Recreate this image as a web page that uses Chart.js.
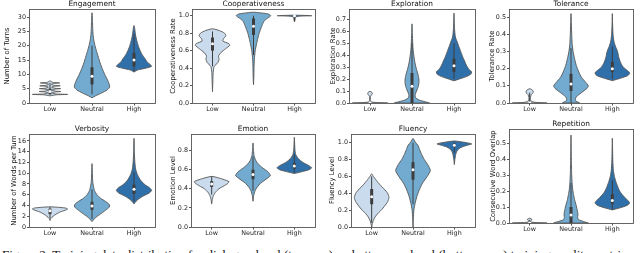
<!DOCTYPE html>
<html>
<head>
<meta charset="utf-8">
<script src="https://cdn.jsdelivr.net/npm/chart.js@4.4.0/dist/chart.umd.min.js"></script>
<style>
  html, body { margin: 0; padding: 0; background: #fff; width: 640px; height: 253px; overflow: hidden; position: relative; }
  canvas { position: absolute; }
  #caption { position: absolute; left: 2px; top: 248px; font: 13px "Liberation Serif", serif; line-height: 1; white-space: nowrap; color: #111; }
</style>
</head>
<body>
<div id="caption">Figure 2: Training data distribution for dialogue-level (top row) and utterance-level (bottom row) training quality metrics.</div>
<script>
const groups = ['Low', 'Neutral', 'High'];

// violin outlines: value levels (y) and relative half-width (w, 1 = widest)
const engagementLowY = [2.5, 2.85, 3.0, 3.15, 3.5, 3.85, 4.0, 4.15, 4.5, 4.85, 5.0, 5.15, 5.5, 5.85, 6.0, 6.15, 6.5, 6.85, 7.0, 7.15, 7.5, 7.8];
const engagementLowW = [0, 0.35, 1.0, 0.35, 0.12, 0.3, 0.62, 0.3, 0.1, 0.28, 0.6, 0.28, 0.1, 0.26, 0.58, 0.26, 0.08, 0.22, 0.55, 0.2, 0.06, 0];
const engagementNeutralY = [1.8, 2.5, 3.5, 4.5, 5.5, 6.5, 8, 10, 12, 14, 16, 18, 20, 22, 24, 26, 28, 31.5];
const engagementNeutralW = [0, 0.2, 0.55, 0.85, 1.0, 0.98, 0.88, 0.72, 0.58, 0.46, 0.36, 0.26, 0.17, 0.1, 0.06, 0.04, 0.03, 0];
const engagementHighY = [10.8, 11.5, 12.2, 12.8, 13.5, 14.5, 15.5, 17, 18.5, 20, 21.5, 23, 24.5, 26, 27];
const engagementHighW = [0, 0.2, 0.7, 1.0, 0.9, 0.72, 0.62, 0.45, 0.33, 0.24, 0.17, 0.11, 0.07, 0.04, 0];

const coopLowY = [0.13, 0.25, 0.35, 0.42, 0.46, 0.5, 0.54, 0.58, 0.62, 0.66, 0.68, 0.71, 0.74, 0.77, 0.8, 0.83, 0.85];
const coopLowW = [0, 0.02, 0.04, 0.1, 0.3, 0.38, 0.35, 0.5, 0.75, 1.0, 0.95, 0.6, 0.65, 0.78, 0.7, 0.4, 0];
const coopNeutralY = [0.21, 0.3, 0.4, 0.5, 0.6, 0.68, 0.74, 0.8, 0.85, 0.9, 0.94, 0.97, 1.0, 1.02, 1.04];
const coopNeutralW = [0, 0.02, 0.03, 0.05, 0.1, 0.18, 0.25, 0.33, 0.42, 0.52, 0.62, 0.8, 1.0, 0.85, 0];
const coopHighY = [0.93, 0.95, 0.97, 0.985, 0.995, 1.0, 1.006];
const coopHighW = [0, 0.03, 0.04, 0.06, 0.3, 1.0, 0];

const explorationLowY = [0, 0.004, 0.01, 0.03, 0.055, 0.07, 0.082, 0.092, 0.097];
const explorationLowW = [1.0, 0.35, 0.05, 0.02, 0.03, 0.1, 0.14, 0.08, 0];
const explorationNeutralY = [0, 0.01, 0.025, 0.045, 0.07, 0.1, 0.14, 0.18, 0.22, 0.26, 0.3, 0.35, 0.4, 0.45, 0.5, 0.58, 0.66];
const explorationNeutralW = [1.0, 0.75, 0.4, 0.2, 0.18, 0.26, 0.36, 0.4, 0.37, 0.3, 0.22, 0.15, 0.1, 0.06, 0.04, 0.02, 0];
const explorationHighY = [0.185, 0.2, 0.22, 0.24, 0.26, 0.28, 0.31, 0.35, 0.39, 0.43, 0.47, 0.51, 0.55, 0.6, 0.66, 0.75];
const explorationHighW = [0, 0.3, 0.7, 0.95, 1.0, 0.85, 0.72, 0.6, 0.48, 0.38, 0.28, 0.18, 0.08, 0.04, 0.02, 0];

const toleranceLowY = [0, 0.004, 0.012, 0.03, 0.05, 0.06, 0.07, 0.078, 0.083];
const toleranceLowW = [1.0, 0.3, 0.08, 0.04, 0.1, 0.2, 0.2, 0.12, 0];
const toleranceNeutralY = [0, 0.015, 0.035, 0.06, 0.085, 0.1, 0.12, 0.15, 0.18, 0.22, 0.26, 0.3, 0.34, 0.4, 0.46, 0.52];
const toleranceNeutralW = [0.5, 0.25, 0.3, 0.6, 0.92, 1.0, 0.85, 0.6, 0.45, 0.3, 0.2, 0.12, 0.07, 0.04, 0.02, 0];
const toleranceHighY = [0.13, 0.145, 0.16, 0.175, 0.19, 0.21, 0.23, 0.25, 0.27, 0.3, 0.33, 0.36, 0.4, 0.46, 0.52];
const toleranceHighW = [0, 0.5, 0.9, 1.0, 0.85, 0.62, 0.5, 0.42, 0.36, 0.3, 0.18, 0.09, 0.04, 0.015, 0];

const verbosityLowY = [1.2, 1.6, 2.0, 2.4, 2.8, 3.1, 3.35, 3.55, 3.75];
const verbosityLowW = [0, 0.05, 0.18, 0.35, 0.58, 0.85, 1.0, 0.85, 0];
const verbosityNeutralY = [1.0, 1.5, 2.0, 2.5, 3.0, 3.5, 3.9, 4.3, 4.8, 5.3, 6.0, 6.8, 7.6, 8.5, 10, 11.8];
const verbosityNeutralW = [0, 0.12, 0.3, 0.52, 0.72, 0.92, 1.0, 0.95, 0.75, 0.5, 0.28, 0.14, 0.08, 0.04, 0.02, 0];
const verbosityHighY = [4.3, 4.8, 5.3, 5.8, 6.3, 6.8, 7.3, 7.8, 8.5, 9.2, 10, 11, 12.5, 14, 16.5];
const verbosityHighW = [0, 0.12, 0.3, 0.55, 0.85, 1.0, 0.88, 0.65, 0.42, 0.28, 0.16, 0.08, 0.04, 0.02, 0];

const emotionLowY = [0.24, 0.28, 0.32, 0.36, 0.4, 0.43, 0.455, 0.475, 0.5, 0.53];
const emotionLowW = [0, 0.03, 0.08, 0.2, 0.42, 0.7, 0.92, 1.0, 0.65, 0];
const emotionNeutralY = [0.27, 0.33, 0.38, 0.42, 0.46, 0.5, 0.54, 0.58, 0.62, 0.66, 0.7, 0.75, 0.8, 0.88];
const emotionNeutralW = [0, 0.04, 0.12, 0.25, 0.45, 0.75, 1.0, 0.85, 0.55, 0.3, 0.15, 0.06, 0.03, 0];
const emotionHighY = [0.56, 0.58, 0.6, 0.62, 0.645, 0.67, 0.7, 0.73, 0.76, 0.8, 0.86, 0.94];
const emotionHighW = [0, 0.45, 0.85, 1.0, 0.82, 0.55, 0.32, 0.17, 0.08, 0.04, 0.02, 0];

const fluencyLowY = [0, 0.04, 0.08, 0.12, 0.16, 0.2, 0.25, 0.3, 0.35, 0.4, 0.45, 0.5, 0.55, 0.6, 0.63];
const fluencyLowW = [0, 0.04, 0.1, 0.2, 0.35, 0.55, 0.75, 0.92, 1.0, 0.92, 0.72, 0.48, 0.28, 0.1, 0];
const fluencyNeutralY = [0, 0.1, 0.2, 0.28, 0.36, 0.44, 0.52, 0.6, 0.67, 0.74, 0.8, 0.86, 0.92, 0.97, 1.01, 1.05];
const fluencyNeutralW = [0, 0.02, 0.05, 0.12, 0.22, 0.36, 0.55, 0.82, 1.0, 0.85, 0.65, 0.5, 0.38, 0.28, 0.12, 0];
const fluencyHighY = [0.74, 0.8, 0.86, 0.9, 0.93, 0.95, 0.97, 0.985, 1.0, 1.02];
const fluencyHighW = [0, 0.03, 0.08, 0.15, 0.28, 0.45, 0.75, 1.0, 0.7, 0];

const repetitionLowY = [0, 0.003, 0.008, 0.015, 0.02, 0.025, 0.03];
const repetitionLowW = [1.0, 0.3, 0.05, 0.06, 0.12, 0.12, 0];
const repetitionNeutralY = [0, 0.01, 0.02, 0.035, 0.05, 0.07, 0.09, 0.11, 0.14, 0.17, 0.2, 0.24, 0.3, 0.4, 0.55];
const repetitionNeutralW = [1.0, 0.7, 0.45, 0.38, 0.4, 0.38, 0.34, 0.3, 0.22, 0.16, 0.11, 0.07, 0.04, 0.02, 0];
const repetitionHighY = [0.082, 0.095, 0.11, 0.125, 0.14, 0.16, 0.18, 0.2, 0.23, 0.26, 0.29, 0.33, 0.38, 0.45, 0.53];
const repetitionHighW = [0, 0.45, 0.85, 1.0, 0.9, 0.72, 0.55, 0.42, 0.3, 0.2, 0.12, 0.06, 0.03, 0.015, 0];

// inner boxes: [whisker low, q1, median, q3, whisker high] for Low / Neutral / High
const engagementBox = [[3, 3, 4, 5, 7], [3, 6.5, 9.3, 12.5, 20], [11, 12.8, 15, 17.5, 24]];
const coopBox = [[0.42, 0.6, 0.68, 0.75, 0.82], [0.55, 0.78, 0.88, 0.97, 1.0], [0.94, 1.0, 1.0, 1.0, 1.0]];
const explorationBox = [[0, 0, 0, 0, 0.01], [0, 0, 0.14, 0.25, 0.5], [0.2, 0.26, 0.31, 0.37, 0.5]];
const toleranceBox = [[0, 0, 0, 0.005, 0.06], [0, 0.07, 0.11, 0.17, 0.32], [0.14, 0.18, 0.2, 0.24, 0.33]];
const verbosityBox = [[1.6, 2.4, 3.0, 3.4, 3.7], [1.5, 3.2, 3.9, 4.7, 7.0], [4.7, 6.2, 7.0, 7.9, 10.2]];
const emotionBox = [[0.34, 0.42, 0.45, 0.48, 0.53], [0.38, 0.5, 0.55, 0.6, 0.74], [0.57, 0.61, 0.64, 0.67, 0.76]];
const fluencyBox = [[0.05, 0.27, 0.36, 0.45, 0.6], [0.27, 0.56, 0.68, 0.77, 1.0], [0.88, 0.95, 0.97, 0.99, 1.0]];
const repetitionBox = [[0, 0, 0, 0, 0.02], [0, 0, 0.05, 0.1, 0.25], [0.085, 0.12, 0.14, 0.18, 0.27]];

const colors = ['#c9dbec', '#72aad0', '#3070aa'];
const HALF = 0.42;

Chart.defaults.font.family = '"DejaVu Sans", sans-serif';

const panels = [
  { title: 'Engagement', yLabel: 'Number of Turns', max: 32.8, step: 5, digits: 0,
    ys: [engagementLowY, engagementNeutralY, engagementHighY], ws: [engagementLowW, engagementNeutralW, engagementHighW],
    box: engagementBox, pos: [0, 0, 159, 117], yw: 29, padTop: 9 },
  { title: 'Cooperativeness', yLabel: 'Cooperativeness Rate', max: 1.077, step: 0.2, digits: 1,
    ys: [coopLowY, coopNeutralY, coopHighY], ws: [coopLowW, coopNeutralW, coopHighW],
    box: coopBox, pos: [166, 0, 153, 117], yw: 26, padTop: 9 },
  { title: 'Exploration', yLabel: 'Exploration Rate', max: 0.784, step: 0.1, digits: 1,
    ys: [explorationLowY, explorationNeutralY, explorationHighY], ws: [explorationLowW, explorationNeutralW, explorationHighW],
    box: explorationBox, pos: [326, 0, 153, 117], yw: 23, padTop: 9 },
  { title: 'Tolerance', yLabel: 'Tolerance Rate', max: 0.547, step: 0.1, digits: 1,
    ys: [toleranceLowY, toleranceNeutralY, toleranceHighY], ws: [toleranceLowW, toleranceNeutralW, toleranceHighW],
    box: toleranceBox, pos: [485, 0, 152, 117], yw: 24, padTop: 9 },
  { title: 'Verbosity', yLabel: 'Number of Words per Turn', max: 17.3, step: 2, digits: 0,
    ys: [verbosityLowY, verbosityNeutralY, verbosityHighY], ws: [verbosityLowW, verbosityNeutralW, verbosityHighW],
    box: verbosityBox, pos: [7, 121, 152, 120], yw: 22, padTop: 13 },
  { title: 'Emotion', yLabel: 'Emotion Level', max: 0.974, step: 0.2, digits: 1,
    ys: [emotionLowY, emotionNeutralY, emotionHighY], ws: [emotionLowW, emotionNeutralW, emotionHighW],
    box: emotionBox, pos: [166, 121, 153, 120], yw: 25, padTop: 13 },
  { title: 'Fluency', yLabel: 'Fluency Level', max: 1.103, step: 0.2, digits: 1,
    ys: [fluencyLowY, fluencyNeutralY, fluencyHighY], ws: [fluencyLowW, fluencyNeutralW, fluencyHighW],
    box: fluencyBox, pos: [325, 121, 154, 120], yw: 26, padTop: 13 },
  { title: 'Repetition', yLabel: 'Consecutive Word Overlap', max: 0.5875, step: 0.1, digits: 1,
    ys: [repetitionLowY, repetitionNeutralY, repetitionHighY], ws: [repetitionLowW, repetitionNeutralW, repetitionHighW],
    box: repetitionBox, pos: [486, 116, 151, 121], yw: 23, padTop: 13 },
];

// closed violin outline: right side going up, left side coming back down
function outline(i, ys, ws) {
  const pts = ys.map((y, k) => ({ x: i + ws[k] * HALF, y }));
  for (let k = ys.length - 1; k >= 0; k--) {
    if (ws[k] > 0) pts.push({ x: i - ws[k] * HALF, y: ys[k] });
  }
  pts.push(pts[0]);
  return pts;
}

// frame (all four spines) and the panel title centred on the plot area
const frame = {
  id: 'frame',
  afterDatasetsDraw(chart, args, opts) {
    const { ctx, chartArea: a } = chart;
    ctx.save();
    ctx.strokeStyle = '#555';
    ctx.lineWidth = 0.9;
    const l = Math.round(a.left) + 0.5, t = Math.round(a.top) + 0.5;
    ctx.strokeRect(l, t, Math.round(a.right) - Math.round(a.left), Math.round(a.bottom) - Math.round(a.top));
    ctx.fillStyle = '#111';
    ctx.font = '7.4px "DejaVu Sans", sans-serif';
    ctx.textAlign = 'center';
    ctx.textBaseline = 'middle';
    ctx.fillText(opts.text, (a.left + a.right) / 2, a.top - 5);
    ctx.restore();
  }
};

function makeDatasets(p) {
  const ds = [];
  groups.forEach((g, i) => {
    ds.push({
      label: g, data: outline(i, p.ys[i], p.ws[i]), showLine: true, fill: 'shape',
      backgroundColor: colors[i], borderColor: '#555', borderWidth: 0.9,
      pointRadius: 0, tension: 0.2, order: 3,
    });
    const [lo, q1, med, q3, hi] = p.box[i];
    ds.push({ data: [{ x: i, y: lo }, { x: i, y: hi }], showLine: true, borderColor: '#3d3d3d', borderWidth: 1, pointRadius: 0, order: 2 });
    ds.push({ data: [{ x: i, y: q1 }, { x: i, y: q3 }], showLine: true, borderColor: '#3d3d3d', borderWidth: 3, borderCapStyle: 'butt', pointRadius: 0, order: 1 });
    ds.push({ data: [{ x: i, y: med }], pointRadius: 1.5, pointBackgroundColor: '#fff', pointBorderWidth: 0, order: 0 });
  });
  return ds;
}

panels.forEach((p) => {
  const canvas = document.createElement('canvas');
  const [left, top, w, h] = p.pos;
  canvas.width = w;
  canvas.height = h;
  canvas.style.left = left + 'px';
  canvas.style.top = top + 'px';
  canvas.style.width = w + 'px';
  canvas.style.height = h + 'px';
  document.body.appendChild(canvas);

  new Chart(canvas.getContext('2d'), {
    type: 'scatter',
    data: { datasets: makeDatasets(p) },
    plugins: [frame],
    options: {
      responsive: false,
      animation: false,
      devicePixelRatio: 1,
      events: [],
      layout: { padding: { top: p.padTop, right: 2, left: 0, bottom: 0 } },
      plugins: {
        legend: { display: false },
        tooltip: { enabled: false },
        frame: { text: p.title },
      },
      scales: {
        x: {
          type: 'linear', min: -0.5, max: 2.5,
          afterBuildTicks: (s) => { s.ticks = groups.map((g, i) => ({ value: i })); },
          afterFit: (s) => { s.height = 14; },
          grid: { drawOnChartArea: false, tickLength: 2.5, color: '#555' },
          border: { display: false },
          ticks: { callback: (v) => groups[v], font: { size: 6.4 }, color: '#222', padding: 0, maxRotation: 0, autoSkip: false },
        },
        y: {
          min: 0, max: p.max,
          afterFit: (s) => { s.width = p.yw; },
          grid: { drawOnChartArea: false, tickLength: 2, color: '#555' },
          border: { display: false },
          ticks: { stepSize: p.step, includeBounds: false, autoSkip: false, callback: (v) => v.toFixed(p.digits), font: { size: 6.4 }, color: '#222', padding: 1 },
          title: { display: true, text: p.yLabel, font: { size: 6.9 }, color: '#111', padding: { top: 3.4, bottom: 0 } },
        },
      },
    },
  });
});
</script>
</body>
</html>
